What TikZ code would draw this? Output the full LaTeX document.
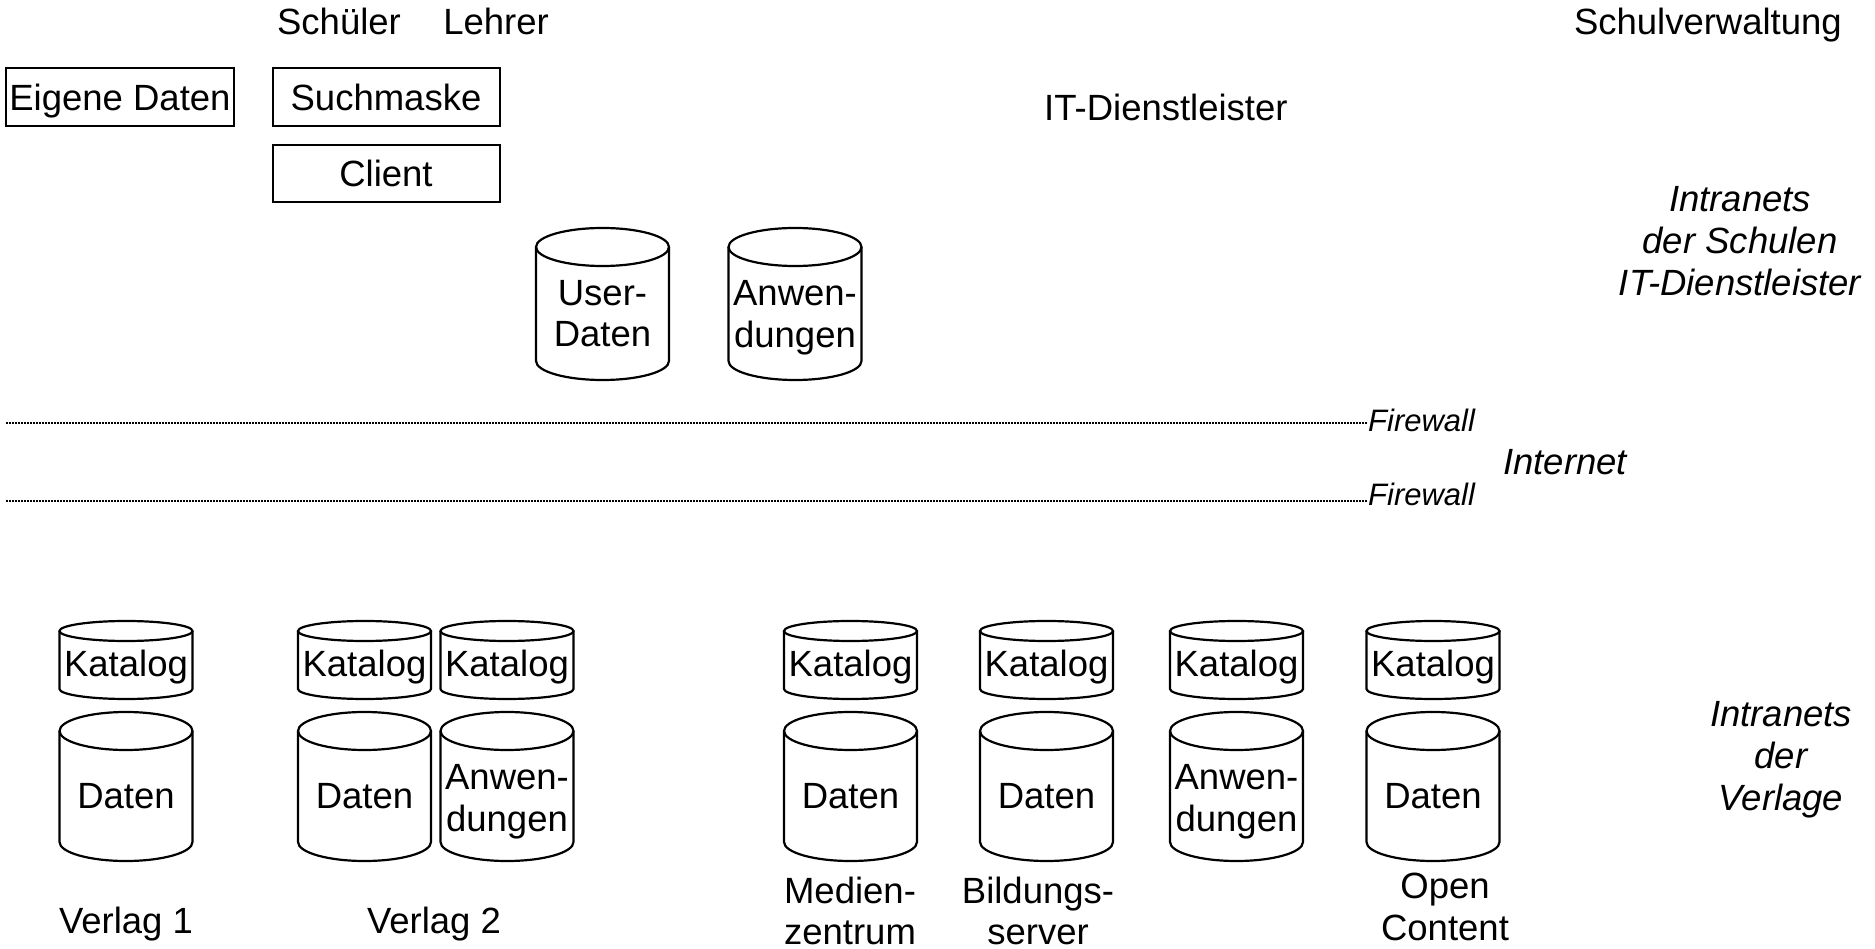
\documentclass[tikz,border=0pt]{standalone}
\usepackage{fontspec}
\setmainfont{Liberation Sans}
\newcommand\txtfont{\fontsize{36.5}{41.5}\selectfont}
\newcommand\dbcyl[5]{% #1 name, #2 cx, #3 ytop, #4 ybottom, #5 ry
  \draw[cylline] (#2,#3+#5) ellipse[x radius=66.5, y radius=#5];
  \draw[cylline] (#2-66.5,#3+#5) -- (#2-66.5,#4-#5)
    arc[start angle=180, end angle=0, x radius=66.5, y radius=#5] -- (#2+66.5,#3+#5);
  \coordinate (#1) at (#2,{(#3+#4)/2});
}
\tikzset{
  lbl/.style={font=\txtfont, inner sep=0pt, align=center},
  ilbl/.style={font=\fontsize{36.5}{42}\selectfont\itshape, inner sep=0pt, align=center},
  fwlbl/.style={font=\fontsize{31}{36}\selectfont\itshape, inner sep=0pt, anchor=base west},
  boxnode/.style={draw, line width=2pt, inner sep=0pt, font=\txtfont,
    text height=26.5pt, text depth=0pt},
  cylline/.style={line width=2.2pt},
  fwline/.style={line width=1.5pt, dash pattern=on 1.5pt off 1.5pt},
}
\begin{document}
\begin{tikzpicture}[x=1pt, y=-1pt]
\useasboundingbox (0,0) rectangle (1875,949);

% top labels
\node[lbl, anchor=base] (schueler) at (339,35) {Schüler};
\node[lbl, anchor=base] (lehrer) at (496,35) {Lehrer};
\node[lbl, anchor=base east] (verw) at (1842,35) {Schulverwaltung};
\node[lbl, anchor=base west] (itd) at (1044,121) {IT-Dienstleister};

% boxes
\node[boxnode, minimum width=228pt, minimum height=58pt] (eigene) at (120,97) {Eigene Daten};
\node[boxnode, minimum width=227pt, minimum height=58pt] (such) at (386,97) {Suchmaske};
\node[boxnode, minimum width=227pt, minimum height=57pt] (client) at (386,173.5) {Client};

% top cylinders
\dbcyl{cUser}{602.5}{228}{380}{19}
\node[lbl] (user) at (602.5,313.5) {User-\\Daten};
\dbcyl{cAnwTop}{795}{228}{380}{19}
\node[lbl] (anwtop) at (795,317.5) {Anwen-\\dungen};

% right labels
\node[ilbl] (intraS) at (1740,241.5) {Intranets\\der Schulen\\IT-Dienstleister};
\node[ilbl] (intraV) at (1781,760) {Intranets\\der\\Verlage};

% firewalls
\node[fwlbl] (fw1) at (1368,432) {Firewall};
\node[fwlbl] (fw2) at (1368,505) {Firewall};
\coordinate (fwl1) at (6,423);
\coordinate (fwl2) at (6,501);
\draw[fwline] (fwl1) -- (fwl1 -| fw1.west);
\draw[fwline] (fwl2) -- (fwl2 -| fw2.west);
\node[ilbl, anchor=base west] (inet) at (1503,475) {Internet};

% lower cylinders: Katalog row
\foreach \cx/\nm in {126/k1, 364.5/k2, 507/k3, 850.5/k4, 1046.5/k5, 1236.5/k6, 1433/k7}{
  \dbcyl{c\nm}{\cx}{621}{699}{10}
  \node[lbl, anchor=base] (\nm) at (\cx,676) {Katalog};
}
% lower cylinders: data row
\foreach \cx/\nm in {126/d1, 364.5/d2, 507/d3, 850.5/d4, 1046.5/d5, 1236.5/d6, 1433/d7}{
  \dbcyl{c\nm}{\cx}{712}{861}{19}
}
\node[lbl, anchor=base] (daten1) at (126,808) {Daten};
\node[lbl, anchor=base] (daten2) at (364.5,808) {Daten};
\node[lbl] (anw2) at (507,801.5) {Anwen-\\dungen};
\node[lbl, anchor=base] (daten4) at (850.5,808) {Daten};
\node[lbl, anchor=base] (daten5) at (1046.5,808) {Daten};
\node[lbl] (anw6) at (1236.5,801.5) {Anwen-\\dungen};
\node[lbl, anchor=base] (daten7) at (1433,808) {Daten};

% bottom labels
\node[lbl, anchor=base] (verlag1) at (126,933) {Verlag 1};
\node[lbl, anchor=base] (verlag2) at (434,933) {Verlag 2};
\node[lbl] (medien) at (850,911) {Medien-\\zentrum};
\node[lbl] (bildung) at (1038,911) {Bildungs-\\server};
\node[lbl] (open) at (1445,907) {Open\\Content};
\end{tikzpicture}
\end{document}
